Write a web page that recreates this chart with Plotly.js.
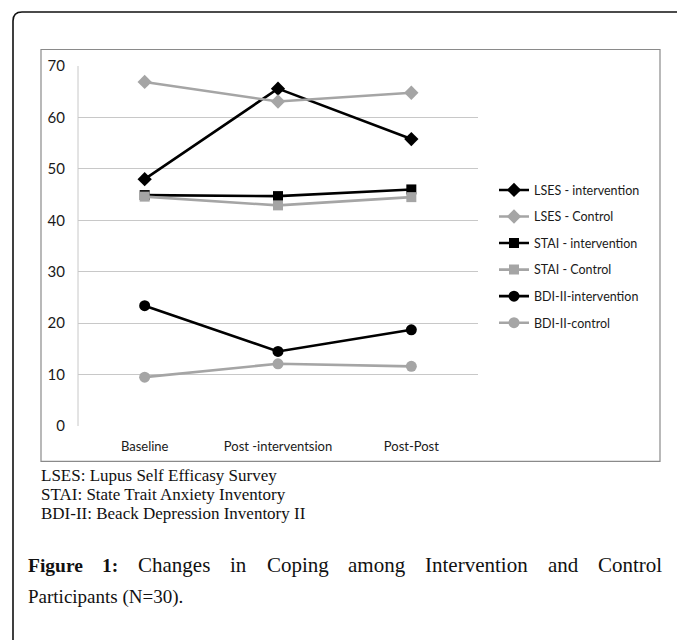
<!DOCTYPE html>
<html>
<head>
<meta charset="utf-8">
<script src="https://cdn.plot.ly/plotly-3.0.1.min.js"></script>
<style>
html,body{margin:0;padding:0;background:#fff;}
#chart{width:677px;height:640px;}
</style>
</head>
<body>
<div id="chart"></div>
<script>
// ---- data ----
const categories = ['Baseline', 'Post -interventsion', 'Post-Post'];
const lsesIntervention = [48.0, 65.6, 55.8];
const lsesControl = [66.9, 63.1, 64.8];
const staiIntervention = [44.9, 44.7, 46.0];
const staiControl = [44.6, 42.9, 44.5];
const bdiIntervention = [23.4, 14.5, 18.7];
const bdiControl = [9.5, 12.1, 11.6];
const seriesNames = ['LSES - intervention', 'LSES - Control', 'STAI - intervention', 'STAI - Control', 'BDI-II-intervention', 'BDI-II-control'];
const yTicks = [0, 10, 20, 30, 40, 50, 60, 70];
const notes = ['LSES: Lupus Self Efficasy Survey', 'STAI: State Trait Anxiety Inventory', 'BDI-II: Beack Depression Inventory II'];
const captionLine1 = [['Figure', true], ['1:', true], ['Changes', false], ['in', false], ['Coping', false], ['among', false], ['Intervention', false], ['and', false], ['Control', false]];
const captionLine2 = 'Participants (N=30).';

// ---- layout geometry (pixels) ----
const W = 677, H = 640;
const L = 78, R = 478, T = 66, B = 426.5;
const fx = px => (px - L) / (R - L);
const fy = py => (B - py) / (B - T);

const BLACK = '#000000', GRAY = '#a5a5a5';
function tr(y, name, color, symbol, size) {
  return {
    x: categories, y: y, name: name, type: 'scatter', mode: 'lines+markers',
    legendgroup: name,
    line: {color: color, width: 2.6},
    marker: {color: color, symbol: symbol, size: size, line: {width: 0}},
    cliponaxis: false
  };
}
const data = [
  tr(lsesIntervention, seriesNames[0], BLACK, 'diamond', 11),
  tr(lsesControl, seriesNames[1], GRAY, 'diamond', 11),
  tr(staiIntervention, seriesNames[2], BLACK, 'square', 10),
  tr(staiControl, seriesNames[3], GRAY, 'square', 10),
  tr(bdiIntervention, seriesNames[4], BLACK, 'circle', 11),
  tr(bdiControl, seriesNames[5], GRAY, 'circle', 11)
];

// caption justification
const serif = "'Liberation Serif', 'Times New Roman', serif";
const capBold = 19.5, capReg = 21, capLine2 = 19;
const cv = document.createElement('canvas').getContext('2d');
function measure(t, bold) { cv.font = (bold ? 'bold ' + capBold : capReg) + "px 'Liberation Serif'"; return cv.measureText(t).width; }
const capLeft = 27.5, capRight = 662;
const widths = captionLine1.map(w => measure(w[0], w[1]));
const totalW = widths.reduce((a, b) => a + b, 0);
const gap = (capRight - capLeft - totalW) / (captionLine1.length - 1);

const annotations = [];
notes.forEach((t, i) => {
  annotations.push({
    text: t, xref: 'paper', yref: 'paper', x: fx(40), y: fy(476.5 + i * 19),
    xanchor: 'left', yanchor: 'middle', showarrow: false, borderpad: 0,
    font: {family: serif, size: 17, color: '#111'}
  });
});
let cx = capLeft;
captionLine1.forEach((w, i) => {
  annotations.push({
    text: w[1] ? '<b>' + w[0] + '</b>' : w[0], xref: 'paper', yref: 'paper',
    x: fx(cx - 1), y: fy(566), xanchor: 'left', yanchor: 'middle', showarrow: false, borderpad: 0,
    font: {family: serif, size: w[1] ? capBold : capReg, color: '#111'}
  });
  cx += widths[i] + gap;
});
annotations.push({
  text: captionLine2, xref: 'paper', yref: 'paper', x: fx(capLeft - 1), y: fy(598),
  xanchor: 'left', yanchor: 'middle', showarrow: false, borderpad: 0,
  font: {family: serif, size: capLine2, color: '#111'}
});

// frame shapes
const fl = 13, ft = 12, rad = 9, fr = 700, fb = 680;
const framePath = 'M ' + fx(fl) + ' ' + fy(fb) + ' L ' + fx(fl) + ' ' + fy(ft + rad) +
  ' Q ' + fx(fl) + ' ' + fy(ft) + ' ' + fx(fl + rad) + ' ' + fy(ft) + ' L ' + fx(fr) + ' ' + fy(ft);
const shapes = [
  {type: 'path', xref: 'paper', yref: 'paper', path: framePath, line: {color: '#111', width: 1.6}, layer: 'below'},
  {type: 'rect', xref: 'paper', yref: 'paper', x0: fx(41), x1: fx(660), y0: fy(462), y1: fy(49.5), line: {color: '#8a8a8a', width: 1.2}, layer: 'below'},
  {type: 'line', xref: 'paper', yref: 'paper', x0: 0, x1: 0, y0: 0, y1: 1, line: {color: '#c8c8c8', width: 1}, layer: 'below'}
];

const layout = {
  width: W, height: H,
  margin: {l: L, r: W - R, t: T, b: H - B, pad: 0},
  paper_bgcolor: '#fff', plot_bgcolor: '#fff',
  showlegend: true,
  legend: {
    x: fx(494), y: fy(175.5), xanchor: 'left', yanchor: 'top',
    font: {family: 'Lato, Carlito, Calibri, sans-serif', size: 12.5, color: '#1a1a1a'},
    traceorder: 'grouped', tracegroupgap: 7.3, bgcolor: 'rgba(0,0,0,0)', borderwidth: 0
  },
  xaxis: {
    type: 'category', range: [-0.5, 2.5], showgrid: false, zeroline: false, showline: false,
    ticks: '', tickfont: {family: 'Lato, Carlito, Calibri, sans-serif', size: 13, color: '#1a1a1a'},
    ticklabelstandoff: 11, fixedrange: true
  },
  yaxis: {
    range: [0, 70], tickvals: yTicks, ticktext: yTicks.map(String), showgrid: true, gridcolor: '#c8c8c8', gridwidth: 1,
    zeroline: false, showline: false, ticks: '',
    tickfont: {family: 'Lato, Carlito, Calibri, sans-serif', size: 15, color: '#1a1a1a'},
    ticklabelstandoff: 12, fixedrange: true
  },
  shapes: shapes,
  annotations: annotations
};
Plotly.newPlot('chart', data, layout, {displayModeBar: false, staticPlot: true});
</script>
</body>
</html>
